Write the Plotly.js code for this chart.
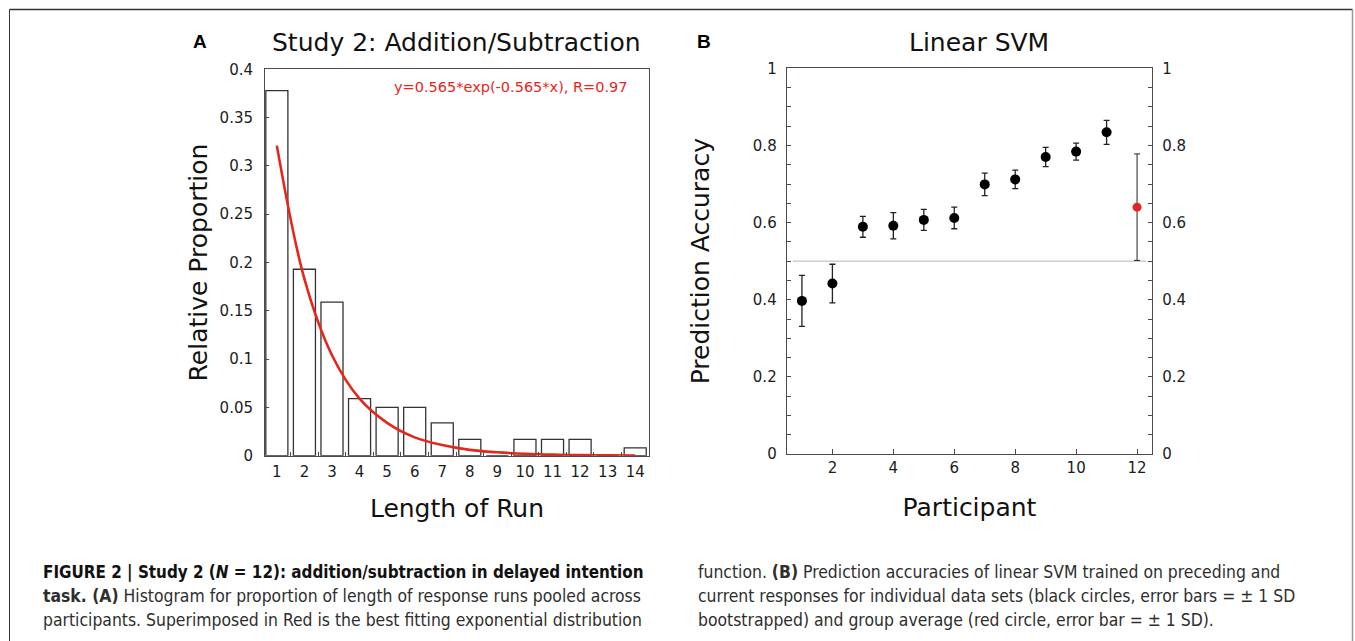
<!DOCTYPE html>
<html>
<head>
<meta charset="utf-8">
<script src="https://cdn.plot.ly/plotly-3.0.1.min.js"></script>
<style>
html,body{margin:0;padding:0;background:#fff;}
#chart{width:1355px;height:641px;}
</style>
</head>
<body>
<div id="chart"></div>
<script>
// ---------- Panel A data: histogram of run lengths ----------
const runLengths = [1, 2, 3, 4, 5, 6, 7, 8, 9, 10, 11, 12, 13, 14];
const runProportions = [0.378, 0.193, 0.159, 0.059, 0.050, 0.050, 0.034, 0.017, 0, 0.017, 0.017, 0.017, 0, 0.008];
// fitted exponential curve, values read at each run length
const fitValues = [0.321, 0.183, 0.104, 0.059, 0.034, 0.019, 0.011, 0.006, 0.0035, 0.002, 0.0011, 0.0006, 0.0004, 0.0002];
const fitLabel = 'y=0.565*exp(-0.565*x), R=0.97';

// ---------- Panel B data: linear SVM accuracies ----------
const participants = [1, 2, 3, 4, 5, 6, 7, 8, 9, 10, 11];
const accuracy = [0.397, 0.442, 0.589, 0.592, 0.607, 0.612, 0.699, 0.712, 0.770, 0.784, 0.834];
const accuracySD = [0.066, 0.050, 0.027, 0.034, 0.027, 0.028, 0.029, 0.024, 0.025, 0.022, 0.031];
const groupPosition = [12];
const groupMean = [0.640];
const groupSD = [0.138];
const chanceLevel = 0.5;
const participantTicks = [2, 4, 6, 8, 10, 12];

// ---------- helpers: pixel -> paper ----------
const W = 1355, H = 641;
const px = x => x / W;
const py = y => 1 - y / H;

const RED = '#e6261b';
const AXC = '#4a4a4a';
const baseFont = 'DejaVu Sans, Verdana, sans-serif';
const tickFont = {family: baseFont, size: 15, color: '#1c1c1c'};
const titleFont = {family: baseFont, size: 25, color: '#111'};
const capFamily = 'Liberation Sans Narrow, DejaVu Sans Condensed, Arial Narrow, sans-serif';
const capFont = {family: capFamily, size: 17.4, color: '#2e2e2e'};
const capFontBold = {family: capFamily, size: 16.9, color: '#111'};
const panelFont = {family: 'Liberation Sans, Arial, sans-serif', size: 19, color: '#000'};

const traces = [
  {
    type: 'bar', x: runLengths, y: runProportions, xaxis: 'x', yaxis: 'y',
    width: 0.8,
    marker: {color: '#ffffff', line: {color: '#333333', width: 1.3}},
    hoverinfo: 'x+y'
  },
  {
    type: 'scatter', mode: 'lines', x: runLengths, y: fitValues, xaxis: 'x', yaxis: 'y',
    line: {color: RED, width: 2.6, shape: 'spline', smoothing: 1.0}
  },
  {
    type: 'scatter', mode: 'markers', x: participants, y: accuracy, xaxis: 'x2', yaxis: 'y2',
    marker: {color: '#000', size: 10},
    error_y: {type: 'data', array: accuracySD, visible: true, color: '#222', thickness: 1.3, width: 3}
  },
  {
    type: 'scatter', mode: 'markers', x: groupPosition, y: groupMean, xaxis: 'x2', yaxis: 'y3',
    marker: {color: RED, size: 9},
    error_y: {type: 'data', array: groupSD, visible: true, color: '#222', thickness: 1, width: 3}
  }
];

function capLine(text, x, y, font) {
  return {text: text, xref: 'paper', yref: 'paper', x: px(x), y: py(y), xanchor: 'left', yanchor: 'middle',
          showarrow: false, font: font || capFont, align: 'left'};
}
function label(text, x, y, font) {
  return {text: text, xref: 'paper', yref: 'paper', x: px(x), y: py(y), xanchor: 'center', yanchor: 'middle',
          showarrow: false, font: font};
}

const layout = {
  width: W, height: H,
  margin: {l: 0, r: 0, t: 0, b: 0},
  paper_bgcolor: '#fff', plot_bgcolor: 'rgba(0,0,0,0)',
  showlegend: false,
  bargap: 0.2,
  xaxis: {
    domain: [px(265), px(649)], range: [0.57, 14.5], anchor: 'y',
    tickvals: runLengths, ticks: 'inside', ticklen: 0, tickcolor: AXC,
    showline: true, mirror: true, linecolor: AXC, linewidth: 1,
    showgrid: false, zeroline: false, tickfont: tickFont, ticklabelstandoff: 2,
    minor: {ticks: 'inside', tick0: 0.5, dtick: 1, ticklen: 4, tickcolor: AXC, showgrid: false},
    title: {text: 'Length of Run', font: titleFont, standoff: 19}
  },
  yaxis: {
    domain: [py(455.7), py(69.3)], range: [0, 0.4], anchor: 'x',
    dtick: 0.05, ticks: 'inside', ticklen: 4, tickcolor: AXC,
    showline: true, mirror: true, linecolor: AXC, linewidth: 1,
    showgrid: false, zeroline: false, tickfont: tickFont, ticklabelstandoff: 8,
    title: {text: 'Relative Proportion', font: titleFont, standoff: 4}
  },
  xaxis2: {
    domain: [px(786.7), px(1152.3)], range: [0.5, 12.5], anchor: 'y2',
    tickvals: participantTicks, ticks: 'inside', ticklen: 5, tickcolor: AXC,
    showline: true, mirror: true, linecolor: AXC, linewidth: 1,
    showgrid: false, zeroline: false, tickfont: tickFont, ticklabelstandoff: 0,
    title: {text: 'Participant', font: titleFont, standoff: 22}
  },
  yaxis2: {
    domain: [py(454), py(68.3)], range: [0, 1], anchor: 'x2',
    dtick: 0.2, ticks: 'inside', ticklen: 4, tickcolor: AXC,
    minor: {ticks: 'inside', dtick: 0.05, ticklen: 4, tickcolor: AXC, showgrid: false},
    showline: true, linecolor: AXC, linewidth: 1,
    showgrid: false, zeroline: false, tickfont: tickFont, ticklabelstandoff: 6,
    title: {text: 'Prediction Accuracy', font: titleFont, standoff: 36}
  },
  yaxis3: {
    overlaying: 'y2', side: 'right', anchor: 'x2', range: [0, 1],
    dtick: 0.2, ticks: 'inside', ticklen: 4, tickcolor: AXC,
    minor: {ticks: 'inside', dtick: 0.05, ticklen: 4, tickcolor: AXC, showgrid: false},
    showline: true, linecolor: AXC, linewidth: 1,
    showgrid: false, zeroline: false, tickfont: tickFont, ticklabelstandoff: 6
  },
  shapes: [
    {type: 'line', xref: 'x2 domain', yref: 'y2', x0: 0.017, x1: 0.983, y0: chanceLevel, y1: chanceLevel,
     line: {color: '#b4b4b4', width: 1}, layer: 'below'},
    // figure frame
    {type: 'line', xref: 'paper', yref: 'paper', x0: px(9.5), x1: px(1352.5), y0: py(9.5), y1: py(9.5), line: {color: '#333', width: 1.5}},
    {type: 'line', xref: 'paper', yref: 'paper', x0: px(9.5), x1: px(9.5), y0: py(9.5), y1: -0.01, line: {color: '#333', width: 1}},
    {type: 'line', xref: 'paper', yref: 'paper', x0: px(1352.5), x1: px(1352.5), y0: py(9.5), y1: -0.01, line: {color: '#999', width: 1.5}}
  ],
  annotations: [
    label('<b>A</b>', 200, 42, panelFont),
    label('Study 2: Addition/Subtraction', 456, 43, titleFont),
    label(fitLabel, 511, 87, {family: baseFont, size: 14.5, color: RED}),
    label('<b>B</b>', 704.5, 42, panelFont),
    label('Linear SVM', 979, 43, titleFont),
    capLine('<b>FIGURE 2 | Study 2 (<i>N</i> = 12): addition/subtraction in delayed intention</b>', 41, 572, capFontBold),
    capLine('<b>task. (A)</b> Histogram for proportion of length of response runs pooled across', 41, 596),
    capLine('participants. Superimposed in Red is the best fitting exponential distribution', 41, 620),
    capLine('function. <b>(B)</b> Prediction accuracies of linear SVM trained on preceding and', 696, 572),
    capLine('current responses for individual data sets (black circles, error bars = ± 1 SD', 696, 596),
    capLine('bootstrapped) and group average (red circle, error bar = ± 1 SD).', 696, 620)
  ]
};

Plotly.newPlot('chart', traces, layout, {displayModeBar: false, staticPlot: true});
</script>
</body>
</html>
